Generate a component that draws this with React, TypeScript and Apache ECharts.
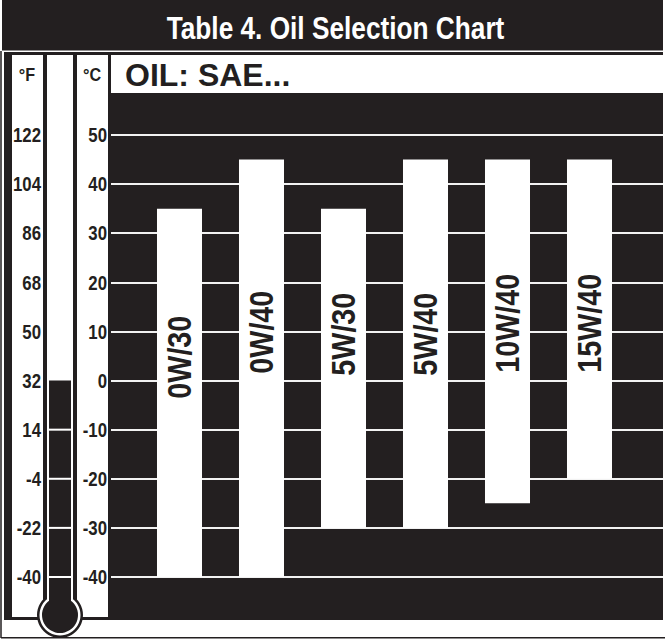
import React, { useEffect, useRef } from "react";
import * as echarts from "echarts";

// ---- data ----
const CATEGORIES = ["0W/30", "0W/40", "5W/30", "5W/40", "10W/40", "15W/40"];
const HIGH_C = [35, 45, 35, 45, 45, 45];
const LOW_C = [-40, -40, -30, -30, -25, -20];
const C_TICKS = [-40, -30, -20, -10, 0, 10, 20, 30, 40, 50];
const F_TICKS = ["-40", "-22", "-4", "14", "32", "50", "68", "86", "104", "122"];
const MERCURY_C = 0;
const TITLE = "Table 4. Oil Selection Chart";
const HEADER = "OIL: SAE...";
const UNIT_F = "°F";
const UNIT_C = "°C";

// ---- style ----
const INK = "#231f20";
const SANS = "'Liberation Sans', Arial, Helvetica, sans-serif";
const LABEL_START_C = 1.4;
const LABEL_NUDGE = [25, 0, 2, 2, -1, -1];
const TOP = 135;
const BOTTOM = 62;

export default function App() {
  const ref = useRef<HTMLDivElement>(null);
  useEffect(() => {
    document.body.style.margin = "0";
    const chart = echarts.init(ref.current!, null, { renderer: "svg" });
    const yBase = { type: "value", min: -40, max: 50, interval: 10 };
    const tickText = (text: string, x: number, y: number) => ({
      type: "text",
      x,
      y,
      scaleX: 0.8,
      style: { text, fill: INK, fontSize: 21, fontWeight: "bold", fontFamily: SANS, align: "right", verticalAlign: "middle" },
    });
    const option: any = {
      animation: false,
      backgroundColor: "#ffffff",
      grid: [
        { left: 111, right: 2, top: TOP, bottom: BOTTOM },
        { left: 138.5, right: 34.5, top: TOP, bottom: BOTTOM },
        { left: 49, width: 22, top: TOP, bottom: BOTTOM },
      ],
      xAxis: [
        { gridIndex: 0, type: "value", show: false, min: 0, max: 1 },
        { gridIndex: 1, type: "category", data: CATEGORIES, show: false },
        { gridIndex: 2, type: "category", data: [""], show: false },
      ],
      yAxis: [
        {
          ...yBase,
          gridIndex: 0,
          position: "left",
          axisLine: { show: false },
          axisTick: { show: false },
          axisLabel: { show: false },
          splitLine: { show: true, lineStyle: { color: "#f2f2f2", width: 2 } },
        },
        { ...yBase, gridIndex: 1, show: false, splitLine: { show: false } },
        { ...yBase, gridIndex: 2, show: false, splitLine: { show: false } },
      ],
      graphic: [
        { type: "rect", z: -5, z2: 1, shape: { x: 2, y: 0, width: 661, height: 50.5 }, style: { fill: INK } },
        { type: "rect", z: -5, z2: 2, shape: { x: 4, y: 52, width: 659, height: 568 }, style: { fill: INK } },
        { type: "line", z: -5, z2: 3, shape: { x1: 1, y1: 51, x2: 1, y2: 638 }, style: { stroke: INK, lineWidth: 1.5 } },
        { type: "line", z: -5, z2: 3, shape: { x1: 1, y1: 637.8, x2: 665, y2: 637.8 }, style: { stroke: INK, lineWidth: 1.5 } },
        { type: "rect", z: -5, z2: 4, shape: { x: 12, y: 55, width: 31, height: 562 }, style: { fill: "#fff" } },
        { type: "rect", z: -5, z2: 4, shape: { x: 77, y: 55, width: 31, height: 562 }, style: { fill: "#fff" } },
        { type: "circle", z: -5, z2: 5, shape: { cx: 60, cy: 615, r: 23 }, style: { fill: INK } },
        { type: "circle", z: -5, z2: 6, shape: { cx: 60, cy: 615, r: 20.5 }, style: { fill: "#fff" } },
        { type: "rect", z: -5, z2: 7, shape: { x: 47, y: 55, width: 26, height: 546 }, style: { fill: "#fff" } },
        { type: "circle", z: -5, z2: 8, shape: { cx: 60, cy: 615, r: 18 }, style: { fill: INK } },
        { type: "rect", z: -5, z2: 4, shape: { x: 111, y: 55, width: 552, height: 38 }, style: { fill: "#fff" } },
        {
          type: "text", z: 10, x: 335.5, y: 28, scaleX: 0.82,
          style: { text: TITLE, fill: "#fff", fontSize: 32, fontWeight: "bold", fontFamily: SANS, align: "center", verticalAlign: "middle" },
        },
        {
          type: "text", z: 10, x: 125, y: 75,
          style: { text: HEADER, fill: INK, fontSize: 32, fontWeight: "bold", fontFamily: SANS, align: "left", verticalAlign: "middle" },
        },
        {
          type: "text", z: 10, x: 27, y: 75, scaleX: 0.85,
          style: { text: UNIT_F, fill: INK, fontSize: 19, fontWeight: "bold", fontFamily: SANS, align: "center", verticalAlign: "middle" },
        },
        {
          type: "text", z: 10, x: 92, y: 75, scaleX: 0.85,
          style: { text: UNIT_C, fill: INK, fontSize: 19, fontWeight: "bold", fontFamily: SANS, align: "center", verticalAlign: "middle" },
        },
      ],
      series: [
        {
          type: "custom",
          name: "Tick labels",
          xAxisIndex: 0,
          yAxisIndex: 0,
          encode: { x: 0, y: 1 },
          data: C_TICKS.map((c, i) => [0, c, i]),
          renderItem: (params: any, api: any) => {
            const cs = params.coordSys;
            const c = api.value(1);
            const i = api.value(2);
            const y = api.coord([0, c])[1];
            return {
              type: "group",
              children: [tickText(String(c), cs.x - 4, y), tickText(F_TICKS[i], cs.x - 70, y)],
            };
          },
        },
        {
          type: "custom",
          name: "Oil",
          xAxisIndex: 1,
          yAxisIndex: 1,
          encode: { x: 0, y: [1, 2] },
          data: CATEGORIES.map((c, i) => [i, LOW_C[i], HIGH_C[i]]),
          renderItem: (params: any, api: any) => {
            const i = api.value(0);
            const top = api.coord([i, api.value(2)]);
            const bot = api.coord([i, api.value(1)]);
            const w = api.size([1, 0])[0] * 0.549;
            const ly = api.coord([i, LABEL_START_C])[1] + LABEL_NUDGE[i];
            return {
              type: "group",
              children: [
                { type: "rect", shape: { x: top[0] - w / 2, y: top[1], width: w, height: bot[1] - top[1] }, style: { fill: "#ffffff" } },
                {
                  type: "text",
                  x: top[0],
                  y: ly,
                  rotation: Math.PI / 2,
                  scaleX: 0.884,
                  style: {
                    text: CATEGORIES[i],
                    fill: INK,
                    fontSize: 32.5,
                    fontWeight: "bold",
                    fontFamily: SANS,
                    align: "left",
                    verticalAlign: "middle",
                  },
                },
              ],
            };
          },
        },
        {
          type: "custom",
          name: "Mercury",
          xAxisIndex: 2,
          yAxisIndex: 2,
          data: [[0, MERCURY_C]],
          renderItem: (params: any, api: any) => {
            const cs = params.coordSys;
            const level = api.value(1);
            const topY = api.coord([0, level])[1];
            const bottom = cs.y + cs.height + 30;
            const children: any[] = [
              { type: "rect", shape: { x: cs.x, y: topY, width: cs.width, height: bottom - topY }, style: { fill: INK } },
            ];
            C_TICKS.forEach((t) => {
              if (t < level) {
                const y = api.coord([0, t])[1];
                children.push({ type: "line", shape: { x1: cs.x, y1: y, x2: cs.x + cs.width, y2: y }, style: { stroke: "#ffffff", lineWidth: 2 } });
              }
            });
            return { type: "group", children };
          },
        },
      ],
    };
    chart.setOption(option);
    return () => chart.dispose();
  }, []);
  return <div ref={ref} style={{ width: 665, height: 639 }} />;
}
